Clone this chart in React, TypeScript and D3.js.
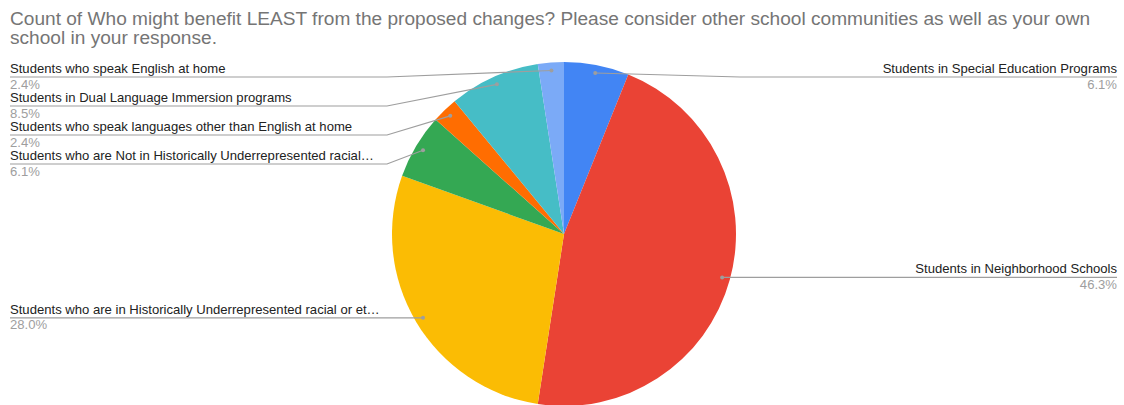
import React, { useEffect, useRef } from "react";
import * as d3 from "d3";

// Slices clockwise from 12 o'clock
const categories = [
  "Students in Special Education Programs",
  "Students in Neighborhood Schools",
  "Students who are in Historically Underrepresented racial or et…",
  "Students who are Not in Historically Underrepresented racial…",
  "Students who speak languages other than English at home",
  "Students in Dual Language Immersion programs",
  "Students who speak English at home",
];
const counts = [5, 38, 23, 5, 2, 7, 2];
const colors = ["#4285f4", "#ea4335", "#fbbc04", "#34a853", "#ff6d01", "#46bdc6", "#7baaf7"];
const titleLines = [
  "Count of Who might benefit LEAST from the proposed changes? Please consider other school communities as well as your own",
  "school in your response.",
];

const W = 1124;
const H = 405;
const cx = 564;
const cy = 234;
const radius = 172;
// label slots: side + y of the leader line (null = follow the dot)
const labelSlots: { side: "left" | "right"; y: number | null }[] = [
  { side: "right", y: 77 },
  { side: "right", y: null },
  { side: "left", y: null },
  { side: "left", y: 164 },
  { side: "left", y: 135 },
  { side: "left", y: 106 },
  { side: "left", y: 77 },
];

const App: React.FC = () => {
  const svgRef = useRef<SVGSVGElement | null>(null);

  useEffect(() => {
    if (!svgRef.current) return;
    const svg = d3.select(svgRef.current);
    svg.selectAll("*").remove();

    const font = "Arial, 'Liberation Sans', sans-serif";

    // title
    svg
      .append("g")
      .selectAll("text")
      .data(titleLines)
      .enter()
      .append("text")
      .attr("x", 10)
      .attr("y", (_, i) => 25 + i * 19)
      .attr("font-family", font)
      .attr("font-size", 19.1)
      .attr("fill", "#757575")
      .text((d) => d);

    const total = d3.sum(counts);
    const pie = d3
      .pie<number>()
      .sort(null)
      .value((d) => d);
    const arcs = pie(counts);

    const arc = d3.arc<d3.PieArcDatum<number>>().innerRadius(0).outerRadius(radius);
    const dotArc = d3.arc<d3.PieArcDatum<number>>().innerRadius(164).outerRadius(164);

    const g = svg.append("g").attr("transform", `translate(${cx},${cy})`);
    g.selectAll("path")
      .data(arcs)
      .enter()
      .append("path")
      .attr("d", arc)
      .attr("fill", (_, i) => colors[i]);

    const labels = svg.append("g").attr("font-family", font);
    arcs.forEach((a, i) => {
      const [dx, dy] = dotArc.centroid(a);
      const px = cx + dx;
      const py = cy + dy;
      const slot = labelSlots[i];
      const ly = slot.y ?? py;
      const left = slot.side === "left";
      const endX = left ? 10 : 1117;
      const elbowX = left ? cx - radius - 5 : cx + radius + 4;

      labels
        .append("polyline")
        .attr("points", `${endX},${ly} ${elbowX},${ly} ${px},${py}`)
        .attr("fill", "none")
        .attr("stroke", "#9e9e9e")
        .attr("stroke-width", 1.2);
      labels
        .append("circle")
        .attr("cx", px)
        .attr("cy", py)
        .attr("r", 2)
        .attr("fill", "#9e9e9e");

      const anchor = left ? "start" : "end";
      labels
        .append("text")
        .attr("x", endX)
        .attr("y", ly - 4)
        .attr("text-anchor", anchor)
        .attr("font-size", 13.1)
        .attr("fill", "#222222")
        .text(categories[i]);
      labels
        .append("text")
        .attr("x", endX)
        .attr("y", ly + 11.5)
        .attr("text-anchor", anchor)
        .attr("font-size", 13.1)
        .attr("fill", "#9e9e9e")
        .text(`${d3.format(".1f")((counts[i] / total) * 100)}%`);
    });
  }, []);

  return (
    <svg
      ref={svgRef}
      width={W}
      height={H}
      style={{ position: "absolute", left: 0, top: 0, background: "#fff" }}
    />
  );
};

export default App;
